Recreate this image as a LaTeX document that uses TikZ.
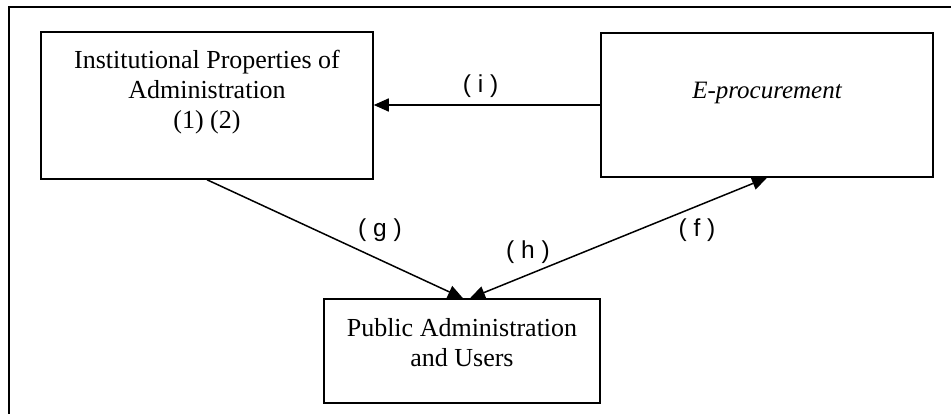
\documentclass[tikz,border=0pt]{standalone}
\usepackage{fontspec}
\setmainfont{Liberation Serif}
\newfontfamily\arialfont{Liberation Sans}
\usetikzlibrary{arrows.meta}
\tikzset{
  box/.style={draw, line width=1.5pt, rectangle, inner sep=0pt},
  boxtext/.style={align=center, inner sep=0pt, anchor=north, font=\fontsize{26}{30}\selectfont},
  lbl/.style={inner sep=0pt, font=\arialfont\fontsize{24.5}{28}\selectfont},
  arr/.style={line width=1.5pt, -{Triangle[length=15pt,width=13pt]}},
  darr/.style={line width=1.5pt, {Triangle[length=15pt,width=13pt]}-{Triangle[length=15pt,width=13pt]}},
}
\begin{document}
\begin{tikzpicture}[x=1pt,y=-1pt]
\useasboundingbox (0,0) rectangle (951,414);
\draw[line width=1.5pt] (9,414) -- (9,7) -- (951,7);
\node[box, minimum width=332pt, minimum height=147pt] (ipa) at (207,105.5) {};
\node[box, minimum width=332pt, minimum height=144pt] (epro) at (767,105) {};
\node[box, minimum width=276pt, minimum height=104pt] (pab) at (462,351) {};
\node[boxtext] (ipat) at (207,50) {Institutional Properties of\\Administration\\(1) (2)};
\node[boxtext, font=\fontsize{25}{30}\selectfont\itshape] (eprot) at (767,82) {E-procurement};
\node[boxtext] (pabt) at (462,318) {Public Administration\\and Users};
\draw[arr] (epro.west) -- (epro.west -| ipa.east);
\draw[arr] (ipa.south) -- ([xshift=1pt]pab.north);
\draw[darr] ([xshift=8pt]pab.north) -- (epro.south);
\node[lbl] (li) at (480.5,86.5) {( i )};
\node[lbl] (lg) at (380,230) {( g )};
\node[lbl] (lh) at (528,252) {( h )};
\node[lbl] (lf) at (697,230) {( f )};
\end{tikzpicture}
\end{document}
